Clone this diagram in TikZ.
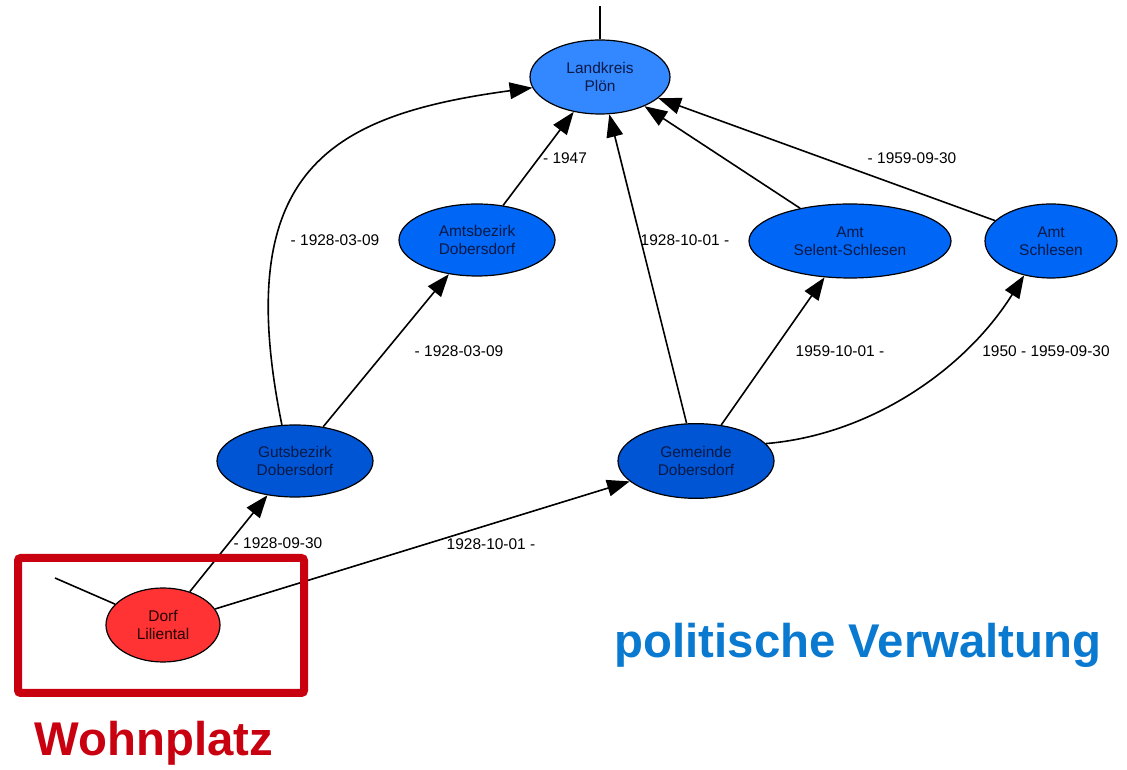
\documentclass[tikz,border=0pt]{standalone}
\usepackage{fontspec}
\setmainfont{Liberation Sans}
\usetikzlibrary{positioning,arrows.meta,shapes.geometric}
\definecolor{kreisblue}{RGB}{51,136,255}
\definecolor{amtblue}{RGB}{0,102,245}
\definecolor{gemblue}{RGB}{0,85,212}
\definecolor{dorfred}{RGB}{255,51,51}
\definecolor{boxred}{RGB}{200,0,16}
\definecolor{titleblue}{RGB}{10,122,208}
\definecolor{unittext}{RGB}{10,25,70}

\begin{document}
\begin{tikzpicture}[x=0.75pt,y=0.75pt,
		unit/.style={ellipse, draw=black, line width=0.9pt, inner sep=0pt, align=center, text=unittext, font=\fontsize{11.6}{13.8}\selectfont},
		link/.style={-{Triangle[length=17pt,width=12.5pt]}, line width=1.2pt},
		date/.style={font=\fontsize{11.6}{13.8}\selectfont}]
		\useasboundingbox (0,0) rectangle (1127,770);
		
		% Verwaltungseinheiten
		\node[unit, fill=kreisblue, minimum width=105pt, minimum height=55.5pt] (lk) at (600,693) {Landkreis\\Plön};
		\node[unit, fill=amtblue, minimum width=117pt, minimum height=54pt] (amtsb) at (477,530) {Amtsbezirk\\Dobersdorf};
		\node[unit, fill=amtblue, minimum width=151.5pt, minimum height=55.5pt] (selent) at (850,529) {Amt\\Selent-Schlesen};
		\node[unit, fill=amtblue, minimum width=99pt, minimum height=55.5pt] (schl) at (1051,529) {Amt\\Schlesen};
		\node[unit, fill=gemblue, minimum width=117pt, minimum height=54pt] (guts) at (295,309) {Gutsbezirk\\Dobersdorf};
		\node[unit, fill=gemblue, minimum width=117pt, minimum height=56pt] (gem) at (696,309) {Gemeinde\\Dobersdorf};
		\node[unit, fill=dorfred, text=black!85!red, minimum width=85.5pt, minimum height=55.5pt] (dorf) at (163,145) {Dorf\\Liliental};
		
		\coordinate (top) at (600,764);
		\coordinate (stray) at (55,192);
		\draw[line width=1.2pt] (lk) -- (top);
		\draw[line width=1.2pt] (stray) -- (dorf);
		
		% Zugehoerigkeiten
		\draw[link] (dorf) -- (guts);
		\draw[link] (dorf) -- (gem);
		\draw[link] (guts) -- (amtsb);
		\draw[link] (guts.110) .. controls (230,600) and (330,655) .. (lk.189);
		\draw[link] (amtsb) -- (lk);
		\draw[link] (gem) -- (lk);
		\draw[link] (gem) -- (selent);
		\draw[link] (gem.14) .. controls (870,335) and (965,400) .. (schl.232);
		\draw[link] (selent) -- (lk);
		\draw[link] (schl) -- (lk);
		
		\node[date] (d1) at (278,227) {- 1928-09-30};
		\node[date] (d2) at (491,226) {1928-10-01 -};
		\node[date] (d3) at (459,419) {- 1928-03-09};
		\node[date] (d4) at (335,530) {- 1928-03-09};
		\node[date] (d5) at (565,612) {- 1947};
		\node[date] (d6) at (685,530) {1928-10-01 -};
		\node[date] (d7) at (840,419) {1959-10-01 -};
		\node[date] (d8) at (1046,419) {1950 - 1959-09-30};
		\node[date] (d9) at (912,612) {- 1959-09-30};
		
		% Beschriftung
		\draw[boxred, line width=6pt, rounded corners=2pt] (18,212) rectangle (304,77);
		\node[text=boxred, font=\bfseries\fontsize{35.5}{40}\selectfont] (wohn) at (154,27) {Wohnplatz};
		\node[text=titleblue, font=\bfseries\fontsize{35.5}{40}\selectfont] (polit) at (858,125) {politische Verwaltung};
		
	\end{tikzpicture}
\end{document}
